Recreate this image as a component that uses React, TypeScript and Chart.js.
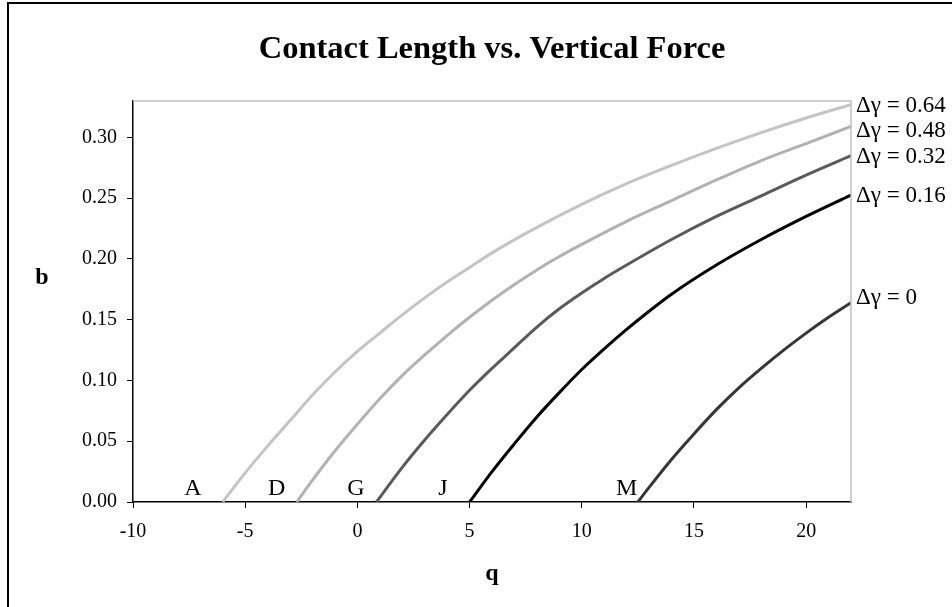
import { useEffect, useRef } from "react";
import { Chart, registerables } from "chart.js";

Chart.register(...registerables);

// Axis ticks
const qTicks = [-10, -5, 0, 5, 10, 15, 20];
const bTicks = [0, 0.05, 0.1, 0.15, 0.2, 0.25, 0.3];

// Curve labels (surface-energy increments)
const curveLabels = ["Δγ = 0.64", "Δγ = 0.48", "Δγ = 0.32", "Δγ = 0.16", "Δγ = 0"];

// Δγ = 0.64
const q064 = [-6.0, -5, -4, -3, -2, -1, 0, 1, 2, 3, 4, 5, 6, 8, 10, 12, 14, 16, 18, 20, 22];
const b064 = [0, 0.024, 0.046, 0.067, 0.088, 0.107, 0.124, 0.139, 0.154, 0.168, 0.181, 0.193, 0.205, 0.226, 0.245, 0.262, 0.277, 0.291, 0.304, 0.316, 0.327];

// Δγ = 0.48
const q048 = [-2.7, -2, -1, 0, 1, 2, 3, 4, 5, 6, 7, 8, 9, 10, 12, 14, 16, 18, 20, 22];
const b048 = [0, 0.018, 0.042, 0.064, 0.085, 0.104, 0.121, 0.137, 0.152, 0.166, 0.179, 0.191, 0.202, 0.212, 0.231, 0.248, 0.265, 0.281, 0.295, 0.309];

// Δγ = 0.32
const q032 = [0.85, 2, 3, 4, 5, 6, 7, 8, 9, 10, 11, 12, 14, 16, 18, 20, 22];
const b032 = [0, 0.0285, 0.051, 0.072, 0.092, 0.11, 0.127, 0.144, 0.159, 0.172, 0.184, 0.195, 0.216, 0.235, 0.252, 0.269, 0.285];

// Δγ = 0.16
const q016 = [5.0, 6, 7, 8, 9, 10, 11, 12, 13, 14, 16, 18, 20, 22];
const b016 = [0, 0.025, 0.048, 0.07, 0.09, 0.109, 0.126, 0.142, 0.157, 0.171, 0.195, 0.216, 0.235, 0.2526];

// Δγ = 0
const q000 = [12.5, 13, 14, 15, 16, 17, 18, 19, 20, 21, 22];
const b000 = [0, 0.012, 0.035, 0.056, 0.076, 0.094, 0.11, 0.125, 0.139, 0.152, 0.164];

// Point letters along the q axis
const pointLetters = ["A", "D", "G", "J", "M"];
const letterQ = [-7.33, -3.6, -0.06, 3.81, 12.0];

const seriesQ = [q064, q048, q032, q016, q000];
const seriesB = [b064, b048, b032, b016, b000];
const seriesColors = ["#c4c4c4", "#b2b2b2", "#5a5a5a", "#000000", "#363636"];
// small vertical nudges (px) so the end labels don't collide
const labelNudge = [1, 4, 1, 1, -5];

const FONT = '"Times New Roman", "Liberation Serif", serif';

const decorations = {
  id: "decorations",
  afterDraw(chart: any) {
    const { ctx, chartArea } = chart;
    const xs = chart.scales.x;
    const ys = chart.scales.y;
    ctx.save();

    // outer frame
    ctx.strokeStyle = "#000";
    ctx.lineWidth = 2;
    ctx.beginPath();
    ctx.moveTo(8, 607);
    ctx.lineTo(8, 3);
    ctx.lineTo(952, 3);
    ctx.stroke();

    // top and right plot border
    ctx.strokeStyle = "#c0c0c0";
    ctx.lineWidth = 1.5;
    ctx.beginPath();
    ctx.moveTo(chartArea.left, chartArea.top);
    ctx.lineTo(chartArea.right, chartArea.top);
    ctx.lineTo(chartArea.right, chartArea.bottom);
    ctx.stroke();

    ctx.fillStyle = "#000";

    // title
    ctx.font = `bold 32.5px ${FONT}`;
    ctx.textAlign = "center";
    ctx.textBaseline = "alphabetic";
    ctx.fillText("Contact Length vs. Vertical Force", (chartArea.left + chartArea.right) / 2, 58);

    // axis titles
    ctx.font = `bold 24px ${FONT}`;
    ctx.fillText("q", (chartArea.left + chartArea.right) / 2, 580);
    ctx.fillText("b", 42, 284);

    // curve labels at the right end of each series
    ctx.font = `23px ${FONT}`;
    ctx.textAlign = "left";
    ctx.textBaseline = "middle";
    curveLabels.forEach((lab, i) => {
      const b = seriesB[i][seriesB[i].length - 1];
      ctx.fillText(lab, chartArea.right + 5, ys.getPixelForValue(b) + labelNudge[i]);
    });

    // point letters just above the q axis
    ctx.font = `24px ${FONT}`;
    ctx.textAlign = "center";
    ctx.textBaseline = "alphabetic";
    pointLetters.forEach((lab, i) => {
      ctx.fillText(lab, xs.getPixelForValue(letterQ[i]), chartArea.bottom - 7);
    });

    ctx.restore();
  },
};

export default function App() {
  const ref = useRef<HTMLCanvasElement>(null);

  useEffect(() => {
    if (!ref.current) return;
    const chart = new Chart(ref.current, {
      type: "scatter",
      data: {
        datasets: seriesQ.map((qs, i) => ({
          label: curveLabels[i],
          data: qs.map((q, j) => ({ x: q, y: seriesB[i][j] })),
          showLine: true,
          borderColor: seriesColors[i],
          backgroundColor: seriesColors[i],
          borderWidth: 3,
          pointRadius: 0,
          cubicInterpolationMode: "monotone" as const,
          fill: false,
        })),
      },
      options: {
        animation: false,
        responsive: false,
        maintainAspectRatio: false,
        layout: { padding: { top: 101, right: 101, left: 0, bottom: 0 } },
        plugins: {
          legend: { display: false },
          tooltip: { enabled: false },
          title: { display: false },
        },
        scales: {
          x: {
            type: "linear",
            min: -10,
            max: 22,
            afterBuildTicks: (s: any) => {
              s.ticks = qTicks.map((v) => ({ value: v }));
            },
            afterFit: (s: any) => {
              s.height = 105;
            },
            grid: { display: true, drawOnChartArea: false, drawTicks: true, tickLength: 6, color: "#000" },
            border: { color: "#000", width: 1.5 },
            ticks: {
              color: "#000",
              font: { family: FONT, size: 20 },
              padding: 12,
              maxRotation: 0,
              autoSkip: false,
            },
          },
          y: {
            type: "linear",
            min: 0,
            max: 0.33,
            afterBuildTicks: (s: any) => {
              s.ticks = bTicks.map((v) => ({ value: v }));
            },
            afterFit: (s: any) => {
              s.width = 133;
            },
            grid: { display: true, drawOnChartArea: false, drawTicks: true, tickLength: 6, color: "#000" },
            border: { color: "#000", width: 1.5 },
            ticks: {
              color: "#000",
              font: { family: FONT, size: 20 },
              padding: 10,
              autoSkip: false,
              callback: (v: any) => Number(v).toFixed(2),
            },
          },
        },
      },
      plugins: [decorations],
    });
    return () => chart.destroy();
  }, []);

  return (
    <div style={{ position: "fixed", left: 0, top: 0, width: 952, height: 607, background: "#fff" }}>
      <canvas ref={ref} width={952} height={607} style={{ width: 952, height: 607 }} />
    </div>
  );
}
